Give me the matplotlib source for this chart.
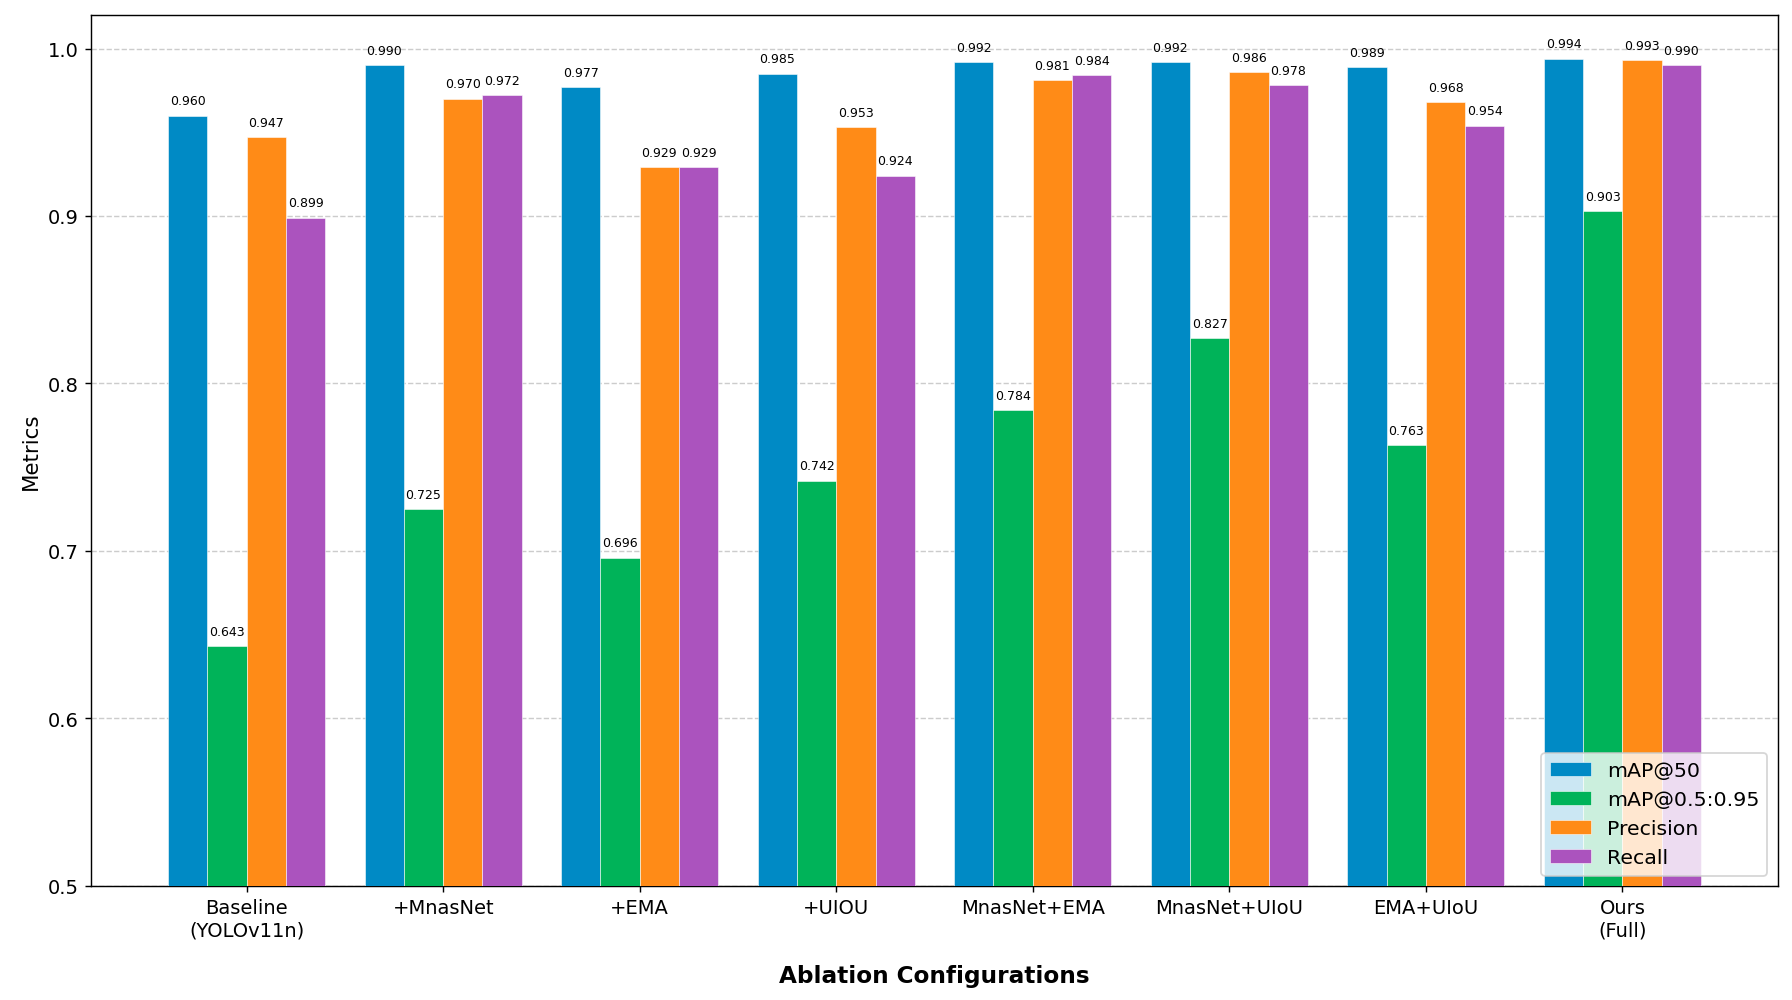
import matplotlib
matplotlib.use("Agg")
import matplotlib.pyplot as plt
import numpy as np

configs = ["Baseline\n(YOLOv11n)", "+MnasNet", "+EMA", "+UIOU",
           "MnasNet+EMA", "MnasNet+UIoU", "EMA+UIoU", "Ours\n(Full)"]
map50 = [0.960, 0.990, 0.977, 0.985, 0.992, 0.992, 0.989, 0.994]
map50_95 = [0.643, 0.725, 0.696, 0.742, 0.784, 0.827, 0.763, 0.903]
precision = [0.947, 0.970, 0.929, 0.953, 0.981, 0.986, 0.968, 0.993]
recall = [0.899, 0.972, 0.929, 0.924, 0.984, 0.978, 0.954, 0.990]

series = [
    ("mAP@50", map50, "#008ac5"),
    ("mAP@0.5:0.95", map50_95, "#00b359"),
    ("Precision", precision, "#ff8b17"),
    ("Recall", recall, "#ab53be"),
]

fig, ax = plt.subplots(figsize=(14, 7.82), dpi=128)
fig.subplots_adjust(left=0.051, right=0.992, top=0.984, bottom=0.114)

x = np.arange(len(configs))
width = 0.2
for i, (name, vals, color) in enumerate(series):
    pos = x + (i - 1.5) * width
    bars = ax.bar(pos, vals, width, label=name, color=color,
                  edgecolor="white", linewidth=0.3, zorder=3)
    for b, v in zip(bars, vals):
        ax.text(b.get_x() + b.get_width() / 2, v + 0.005, f"{v:.3f}",
                ha="center", va="bottom", fontsize=7, zorder=4)

ax.set_ylim(0.5, 1.02)
ax.set_xticks(x)
ax.set_xticklabels(configs, fontsize=11)
ax.tick_params(axis="y", labelsize=11)
ax.set_ylabel("Metrics", fontsize=12)
ax.set_xlabel("Ablation Configurations", fontsize=13, fontweight="bold", labelpad=14)
ax.yaxis.grid(True, linestyle="--", color="#cccccc", linewidth=0.8, zorder=0)
ax.set_axisbelow(True)
ax.legend(loc="lower right", fontsize=11.5, framealpha=0.8)

plt.savefig("out.png", dpi=128)
